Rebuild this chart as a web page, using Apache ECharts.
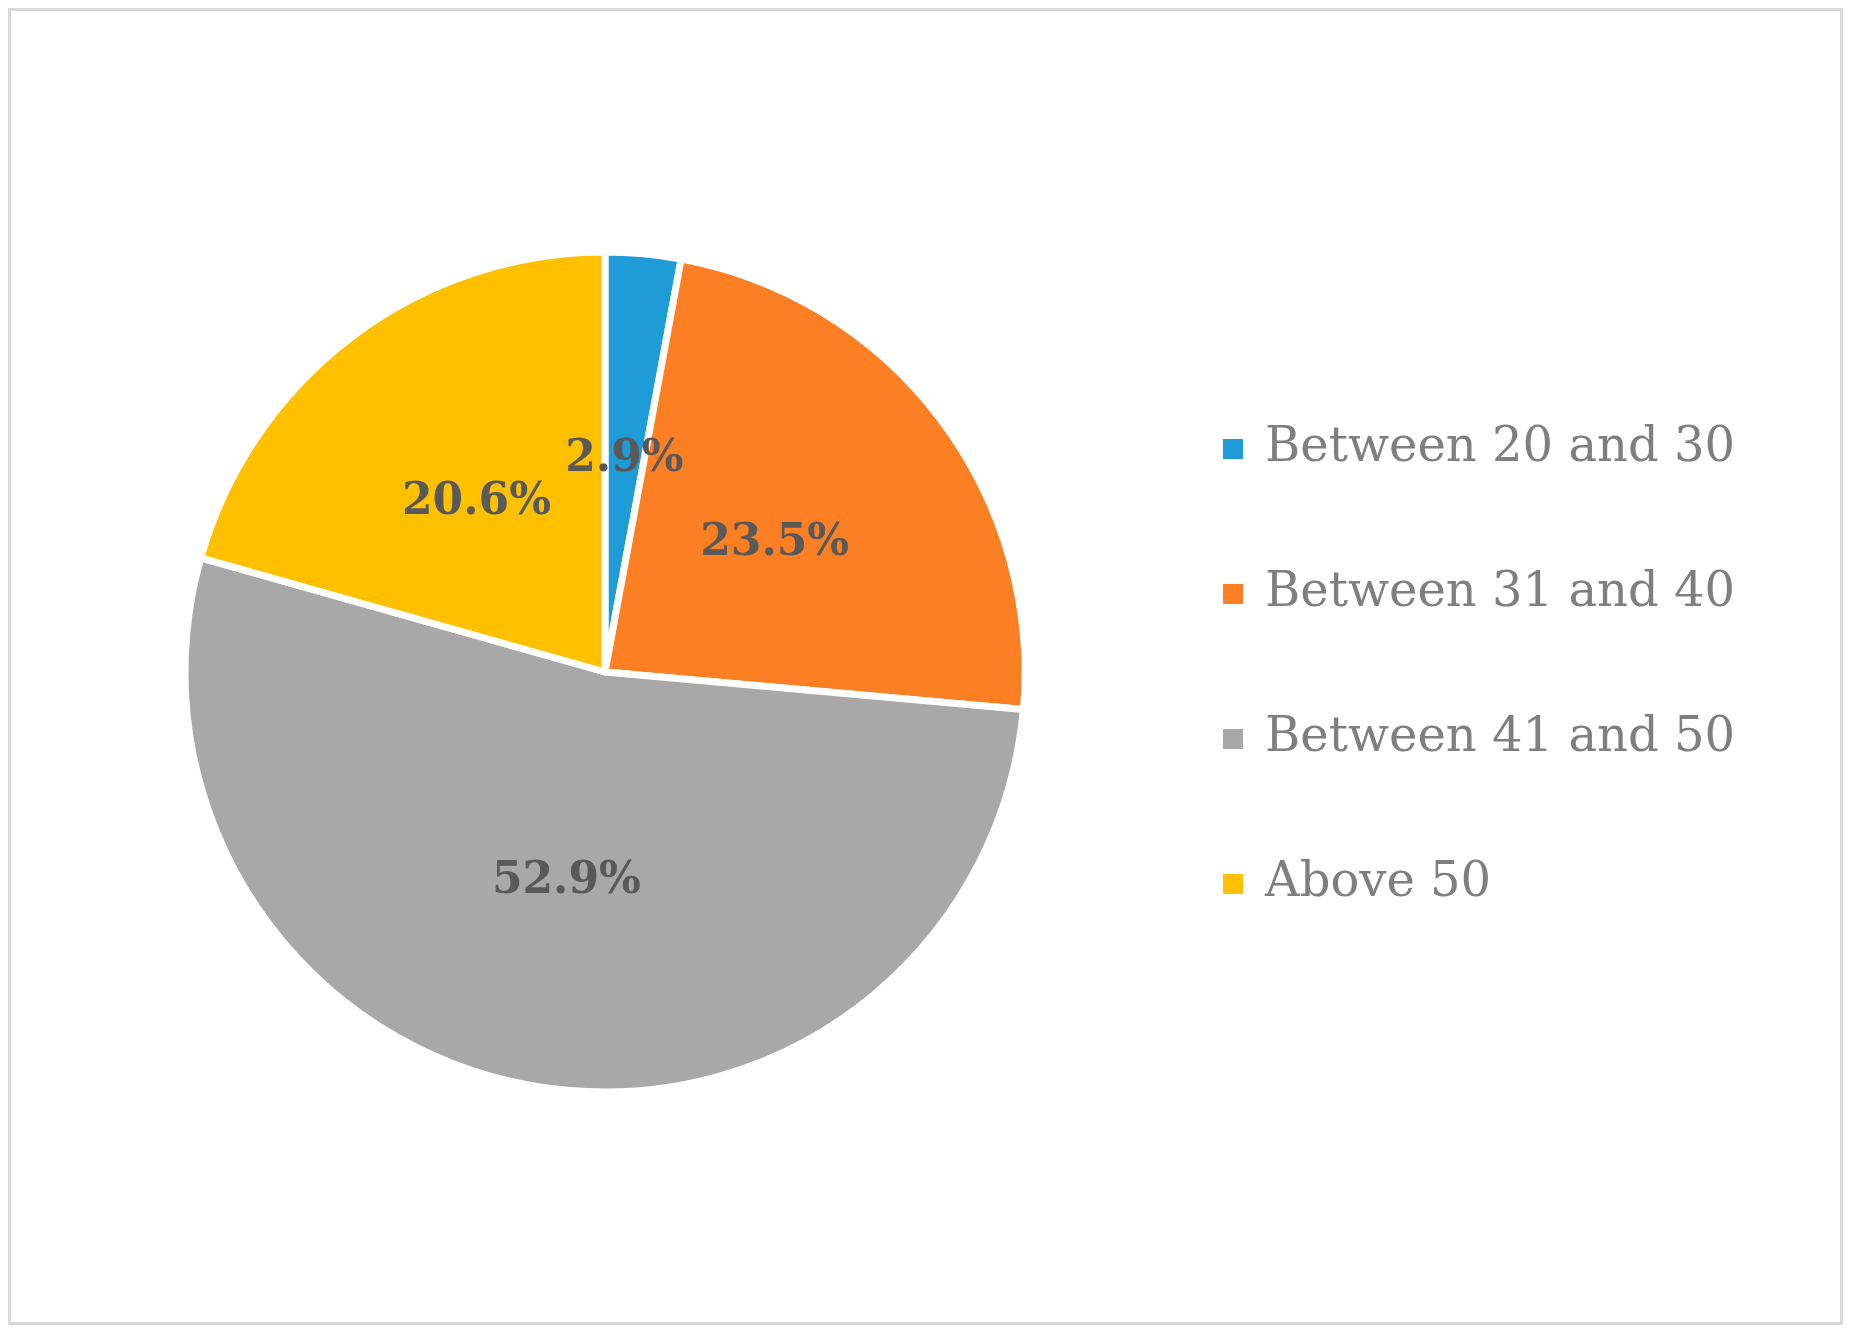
<!DOCTYPE html>
<html><head><meta charset="utf-8">
<script src="https://cdn.jsdelivr.net/npm/echarts@6/dist/echarts.min.js"></script>
<style>html,body{margin:0;padding:0;background:#fff}
#c{position:absolute;left:8px;top:8px;width:1835px;height:1317px;border:3px solid #d9d9d9;box-sizing:border-box}</style>
</head><body><div id="c"></div>
<script>
const categories=["Between 20 and 30","Between 31 and 40","Between 41 and 50","Above 50"];
const values=[2.9,23.5,52.9,20.6];
const colors=["#1f9bd7","#fd7f23","#a8a8a8","#ffc000"];
const chart=echarts.init(document.getElementById('c'));
chart.setOption({
  legend:{orient:'vertical',left:1205,top:'center',itemWidth:22,itemHeight:22,itemGap:97,icon:'rect',
    textStyle:{fontFamily:'DejaVu Serif',fontSize:48,color:'#7f7f7f',padding:[0,0,0,16]}},
  series:[{type:'pie',center:[594,661],radius:420,startAngle:90,clockwise:true,
    data:categories.map((n,i)=>({name:n,value:values[i],itemStyle:{color:colors[i]}})),
    itemStyle:{borderColor:'#fff',borderWidth:7},
    label:{position:'inside',formatter:p=>p.value.toFixed(1)+'%',fontFamily:'DejaVu Serif',fontWeight:'bold',fontSize:44,color:'#595959'},
    labelLine:{show:false}}]
});
</script></body></html>
